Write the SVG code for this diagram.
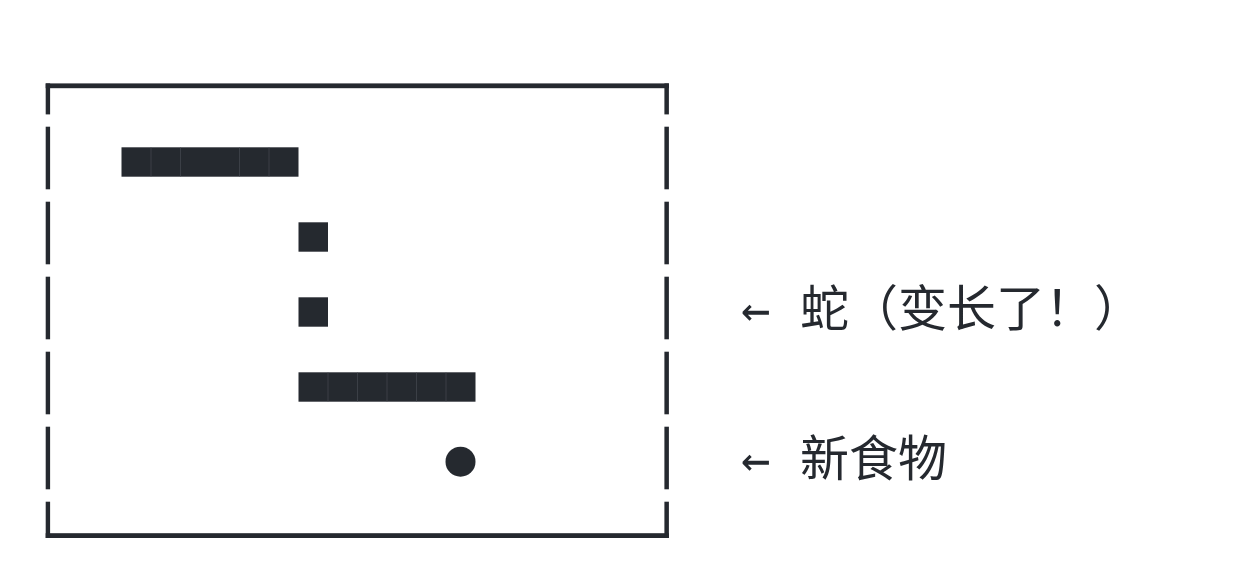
<svg xmlns="http://www.w3.org/2000/svg" width="1242" height="582" viewBox="0 0 1242 582">
  <style>
    .ink { fill: #25292f; }
    .seam { stroke: #4a4f56; stroke-width: 0.6; }
    .label { font-family: "DejaVu Sans Mono", "Noto Sans CJK SC", monospace; font-size: 49px; fill: #25292f; }
  </style>
  <rect width="1242" height="582" fill="#ffffff"/>
  <g id="board">
    <!-- top and bottom walls -->
    <rect class="ink" x="45.7" y="83.4" width="623.2" height="4.8"/>
    <rect class="ink" x="45.7" y="533.2" width="623.2" height="4.8"/>
    <!-- left wall segments -->
    <rect class="ink" x="45.7" y="83.4" width="4.4" height="31"/>
    <rect class="ink" x="45.7" y="126.7" width="4.4" height="62.6"/>
    <rect class="ink" x="45.7" y="201.7" width="4.4" height="62.6"/>
    <rect class="ink" x="45.7" y="276.7" width="4.4" height="62.6"/>
    <rect class="ink" x="45.7" y="351.7" width="4.4" height="62.6"/>
    <rect class="ink" x="45.7" y="426.7" width="4.4" height="62.6"/>
    <rect class="ink" x="45.7" y="501.7" width="4.4" height="36.3"/>
    <!-- right wall segments -->
    <rect class="ink" x="664.4" y="83.4" width="4.5" height="31"/>
    <rect class="ink" x="664.4" y="126.7" width="4.5" height="62.6"/>
    <rect class="ink" x="664.4" y="201.7" width="4.5" height="62.6"/>
    <rect class="ink" x="664.4" y="276.7" width="4.5" height="62.6"/>
    <rect class="ink" x="664.4" y="351.7" width="4.5" height="62.6"/>
    <rect class="ink" x="664.4" y="426.7" width="4.5" height="62.6"/>
    <rect class="ink" x="664.4" y="501.7" width="4.5" height="36.3"/>
  </g>
  <g id="snake">
    <rect class="ink" x="121.5" y="147.3" width="177" height="29.4"/>
    <rect class="ink" x="298.5" y="222.3" width="29.5" height="29.4"/>
    <rect class="ink" x="298.5" y="297.3" width="29.5" height="29.4"/>
    <rect class="ink" x="298.5" y="372.3" width="177" height="29.4"/>
    <g class="seam">
      <line x1="151" y1="147.3" x2="151" y2="176.7"/>
      <line x1="180.5" y1="147.3" x2="180.5" y2="176.7"/>
      <line x1="239.5" y1="147.3" x2="239.5" y2="176.7"/>
      <line x1="269" y1="147.3" x2="269" y2="176.7"/>
      <line x1="328" y1="372.3" x2="328" y2="401.7"/>
      <line x1="357.5" y1="372.3" x2="357.5" y2="401.7"/>
      <line x1="387" y1="372.3" x2="387" y2="401.7"/>
      <line x1="416.5" y1="372.3" x2="416.5" y2="401.7"/>
      <line x1="446" y1="372.3" x2="446" y2="401.7"/>
    </g>
  </g>
  <g id="food">
    <circle class="ink" cx="460.5" cy="461.7" r="15"/>
  </g>
  <g id="labels">
    <text id="label-snake" class="label" x="741" y="326">← 蛇（变长了！）</text>
    <text id="label-food" class="label" x="741" y="476">← 新食物</text>
  </g>
  <g id="connectors"></g>
</svg>
